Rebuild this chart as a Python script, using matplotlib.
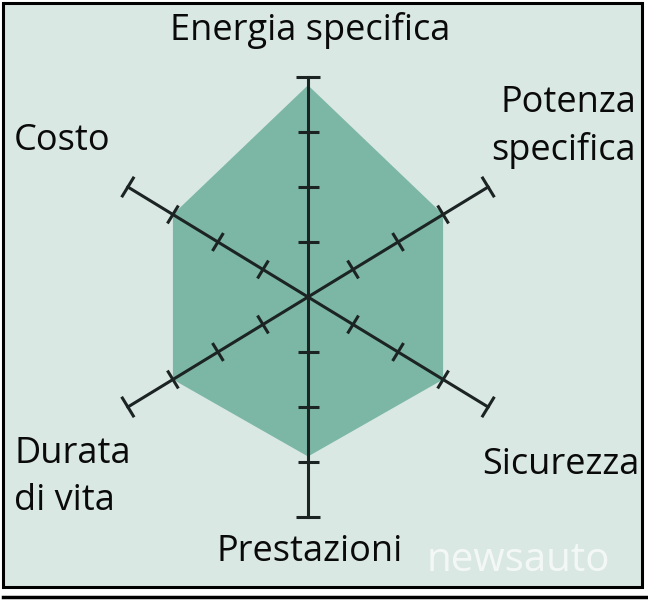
import numpy as np
import matplotlib
matplotlib.use("Agg")
import matplotlib.pyplot as plt
from matplotlib.patches import Rectangle
from matplotlib.lines import Line2D

# chart data
labels = ["Energia specifica", "Potenza\nspecifica", "Sicurezza", "Prestazioni", "Durata\ndi vita", "Costo"]
angles_deg = [90, 30, -30, -90, 210, 150]
values = [3.85, 3.0, 3.0, 2.9, 3.0, 3.0]
tick_levels = [1, 2, 3]
axis_max = 4

bg = "#dae8e4"
fill = "#7cb7a6"
ink = "#1c2423"

W, H = 648, 600
cx, cy = 308, 297          # centre in pixels (from top)
sx, sy = 52.0, 55.0        # pixels per unit

fig = plt.figure(figsize=(W / 100, H / 100), dpi=100)
fig.patch.set_facecolor("white")

# framed panel
fig.patches.append(Rectangle((3 / W, 1 - 587 / H), 639 / W, 584 / H, transform=fig.transFigure,
                             facecolor=bg, edgecolor="black", linewidth=2.2, zorder=-5))
fig.lines.append(Line2D([3 / W, 1.0], [1 - 597 / H] * 2, transform=fig.transFigure,
                        color="black", linewidth=2.5))

ax = fig.add_axes([0, 0, 1, 1])
ax.set_zorder(2)
ax.set_xlim(-cx / sx, (W - cx) / sx)
ax.set_ylim(-(H - cy) / sy, cy / sy)
ax.axis("off")
ax.patch.set_alpha(0)

th = np.radians(angles_deg)
px = np.array(values) * np.cos(th)
py = np.array(values) * np.sin(th)
ax.fill(px, py, color=fill, lw=0, zorder=1)

def tick(r, t, half):
    # short segment perpendicular to the axis, in pixel space
    dx, dy = np.cos(t) * sx, np.sin(t) * sy
    n = np.hypot(dx, dy)
    nx, ny = -dy / n * half, dx / n * half
    x0, y0 = r * np.cos(t), r * np.sin(t)
    ax.plot([x0 - nx / sx, x0 + nx / sx], [y0 - ny / sy, y0 + ny / sy],
            color=ink, lw=2.2, solid_capstyle="butt", zorder=3)

for t in th:
    ax.plot([0, axis_max * np.cos(t)], [0, axis_max * np.sin(t)], color=ink, lw=2.2, zorder=2)
    for lv in tick_levels:
        tick(lv, t, 10.5)
    tick(axis_max, t, 12)

font = "Open Sans"
fs = 26
def put(txt, x, y, ha):
    fig.text(x / W, 1 - y / H, txt, ha=ha, va="baseline", fontsize=fs, family=font,
             color="#0a0a0a", linespacing=1.4, zorder=5)

put(labels[0], 310, 40, "center")
put(labels[1], 636, 160, "right")
put(labels[2], 640, 474, "right")
put(labels[3], 310, 561, "center")
put(labels[4], 14, 510, "left")
put(labels[5], 14, 150, "left")

fig.text(426 / W, 1 - 571 / H, "newsauto", ha="left", va="baseline", fontsize=29,
         family=font, color="white", alpha=0.7, zorder=5)

fig.savefig("out.png", dpi=100, facecolor=fig.get_facecolor())
